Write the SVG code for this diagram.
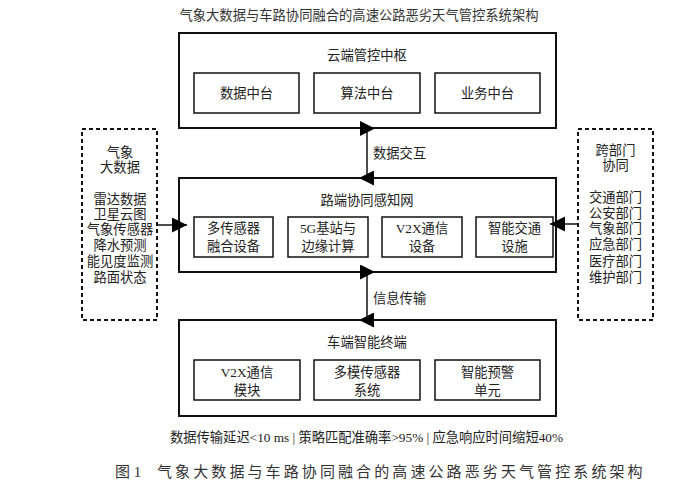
<svg xmlns="http://www.w3.org/2000/svg" width="697" height="488" viewBox="0 0 697 488">
<style>
text{font-family:"Liberation Serif","Noto Sans CJK SC",serif;font-size:13.3px;fill:#222;text-anchor:middle;dominant-baseline:central}
.outer{fill:#fff;stroke:#111;stroke-width:2}
.inner{fill:#fff;stroke:#111;stroke-width:1.5}
.dash{fill:#fff;stroke:#111;stroke-width:2;stroke-dasharray:4 3}
.ln{stroke:#111;stroke-width:1.5;fill:none}
.hd{fill:#000}
.lbl{text-anchor:start}
</style>
<defs>
<marker id="tipEnd" markerUnits="userSpaceOnUse" markerWidth="16" markerHeight="16" refX="15" refY="7.5" orient="auto">
<path d="M0,0 L15,7.5 L0,15 Z" class="hd"/>
</marker>
<marker id="headStart" markerUnits="userSpaceOnUse" markerWidth="16" markerHeight="16" refX="7" refY="7.5" orient="0">
<path d="M0,0 L15,7.5 L0,15 Z" class="hd"/>
</marker>
<marker id="headEnd" markerUnits="userSpaceOnUse" markerWidth="16" markerHeight="16" refX="8" refY="7.5" orient="0">
<path d="M15,0 L0,7.5 L15,15 Z" class="hd"/>
</marker>
</defs>
<rect width="697" height="488" fill="#fff"/>
<text x="359" y="15" style="fill:#333">气象大数据与车路协同融合的高速公路恶劣天气管控系统架构</text>

<g id="cloud">
<rect class="outer" x="179" y="33" width="377" height="95"/>
<text x="367" y="55">云端管控中枢</text>
<g id="cloud-data"><rect class="inner" x="194" y="73" width="105" height="40"/><text x="246.5" y="93">数据中台</text></g>
<g id="cloud-algo"><rect class="inner" x="314" y="73" width="106" height="40"/><text x="367" y="93">算法中台</text></g>
<g id="cloud-biz"><rect class="inner" x="435" y="73" width="105" height="40"/><text x="487.5" y="93">业务中台</text></g>
</g>

<g id="road">
<rect class="outer" x="179" y="178" width="377" height="94"/>
<text x="367" y="200">路端协同感知网</text>
<g id="road-sensor"><rect class="inner" x="194" y="217" width="79" height="40"/><text x="233.5" y="228">多传感器</text><text x="233.5" y="246">融合设备</text></g>
<g id="road-5g"><rect class="inner" x="288" y="217" width="80" height="40"/><text x="328" y="228">5G基站与</text><text x="328" y="246">边缘计算</text></g>
<g id="road-v2x"><rect class="inner" x="382" y="217" width="80" height="40"/><text x="422" y="228">V2X通信</text><text x="422" y="246">设备</text></g>
<g id="road-its"><rect class="inner" x="476" y="217" width="77" height="40"/><text x="514.5" y="228">智能交通</text><text x="514.5" y="246">设施</text></g>
</g>

<g id="vehicle">
<rect class="outer" x="179" y="320" width="377" height="96"/>
<text x="367" y="342">车端智能终端</text>
<g id="veh-v2x"><rect class="inner" x="194" y="360" width="106" height="40"/><text x="247" y="372">V2X通信</text><text x="247" y="390">模块</text></g>
<g id="veh-sensor"><rect class="inner" x="314" y="360" width="106" height="40"/><text x="367" y="372">多模传感器</text><text x="367" y="390">系统</text></g>
<g id="veh-warn"><rect class="inner" x="435" y="360" width="105" height="40"/><text x="487.5" y="372">智能预警</text><text x="487.5" y="390">单元</text></g>
</g>

<g id="weather">
<rect class="dash" x="82" y="129" width="75" height="191"/>
<text x="120" y="152">气象</text>
<text x="120" y="167">大数据</text>
<text x="120" y="199">雷达数据</text>
<text x="120" y="214">卫星云图</text>
<text x="120" y="229">气象传感器</text>
<text x="120" y="245">降水预测</text>
<text x="120" y="261">能见度监测</text>
<text x="120" y="277">路面状态</text>
</g>

<g id="depts">
<rect class="dash" x="578" y="129" width="75" height="191"/>
<text x="615.5" y="150">跨部门</text>
<text x="615.5" y="165">协同</text>
<text x="615.5" y="197">交通部门</text>
<text x="615.5" y="213">公安部门</text>
<text x="615.5" y="228">气象部门</text>
<text x="615.5" y="244">应急部门</text>
<text x="615.5" y="261">医疗部门</text>
<text x="615.5" y="277">维护部门</text>
</g>

<g id="connectors">
<line class="ln" x1="367" y1="128.5" x2="367" y2="178" marker-start="url(#headStart)" marker-end="url(#headEnd)"/>
<line class="ln" x1="367" y1="272" x2="367" y2="320" marker-start="url(#headStart)" marker-end="url(#headEnd)"/>
<line class="ln" x1="157" y1="225" x2="187" y2="225" marker-end="url(#tipEnd)"/>
<line class="ln" x1="578" y1="224" x2="550" y2="224" marker-end="url(#tipEnd)"/>
<text class="lbl" x="373" y="153">数据交互</text>
<text class="lbl" x="373" y="298">信息传输</text>
</g>

<text x="366.5" y="437" textLength="393" lengthAdjust="spacing">数据传输延迟&lt;10 ms | 策略匹配准确率&gt;95% | 应急响应时间缩短40%</text>

<text x="115" y="472" style="font-size:15px;fill:#333;text-anchor:start">图 1</text>
<text x="157" y="472" style="font-size:15px;fill:#333;text-anchor:start;letter-spacing:3.1px">气象大数据与车路协同融合的高速公路恶劣天气管控系统架构</text>
</svg>
